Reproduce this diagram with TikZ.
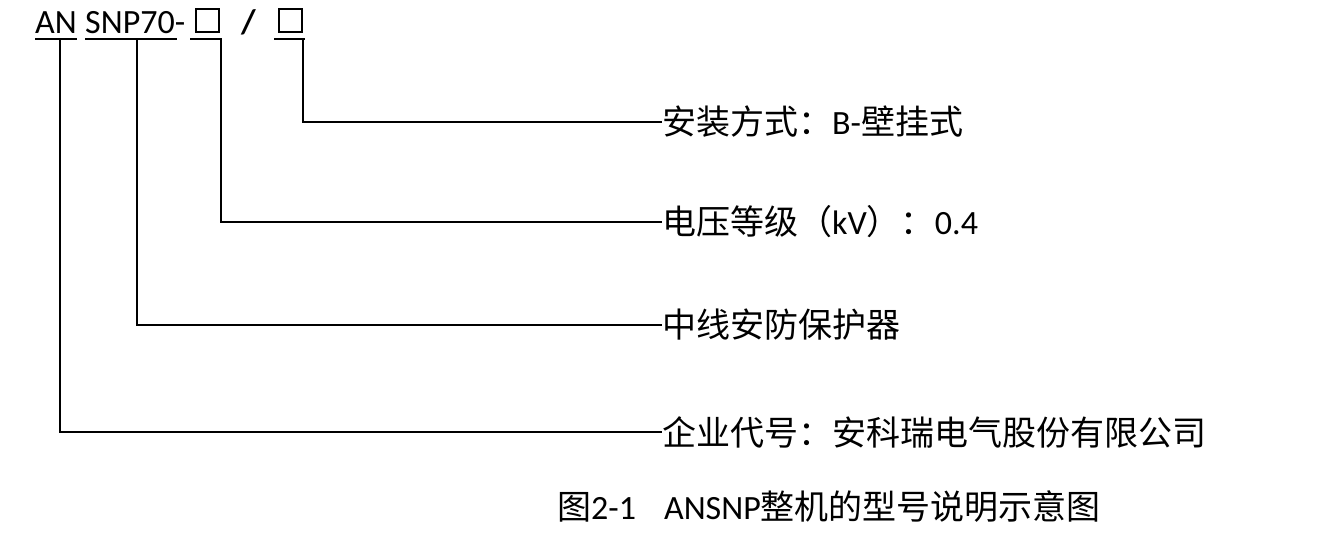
\documentclass[tikz,border=0pt]{standalone}
\usepackage{fontspec}
\setmainfont{Carlito}
\newfontfamily\cjk{Noto Sans CJK SC}
\begin{document}
\begin{tikzpicture}[x=1pt,y=-1pt,
  ln/.style={line width=1.8pt},
  hd/.style={font=\fontsize{34}{34}\selectfont,inner sep=0pt,anchor=base west},
  bx/.style={draw,line width=1.8pt,minimum width=23pt,minimum height=23pt,inner sep=0pt,anchor=south west},
  lb/.style={font=\fontsize{34}{36}\selectfont,inner sep=0pt,anchor=west}]
\useasboundingbox (0,0) rectangle (1318,542);
\node[hd] (an) at (35,33) {AN};
\node[hd] (snp) at (85,33) {SNP70-};
\node[bx] (b1) at (195,33) {};
\node[hd] (sl) at (241,33) {\bfseries /};
\node[bx] (b2) at (278,33) {};
\coordinate (u1a) at (35,39); \coordinate (u1b) at (77,39);
\coordinate (u2a) at (85,39); \coordinate (u2b) at (177,39);
\coordinate (u3a) at (190,39); \coordinate (u3b) at (222,39);
\coordinate (u4a) at (274,39); \coordinate (u4b) at (305,39);
\foreach \a/\b in {u1a/u1b,u2a/u2b,u3a/u3b,u4a/u4b} \draw[ln] (\a) -- (\b);
\node[lb] (t1) at (662,122) {\cjk 安装方式：\normalfont B-\cjk 壁挂式};
\node[lb] (t2) at (662,222) {\cjk 电压等级（\normalfont kV\cjk ）：\normalfont 0.4};
\node[lb] (t3) at (662,325) {\cjk 中线安防保护器};
\node[lb] (t4) at (662,432) {\cjk 企业代号：安科瑞电气股份有限公司};
\draw[ln] (303,39) |- (t1.west);
\draw[ln] (221,39) |- (t2.west);
\draw[ln] (137,39) |- (t3.west);
\draw[ln] (60,39) |- (t4.west);
\node[lb] (cap) at (557,507) {\cjk 图\normalfont 2-1\hspace{28pt}ANSNP\cjk 整机的型号说明示意图};
\end{tikzpicture}
\end{document}
